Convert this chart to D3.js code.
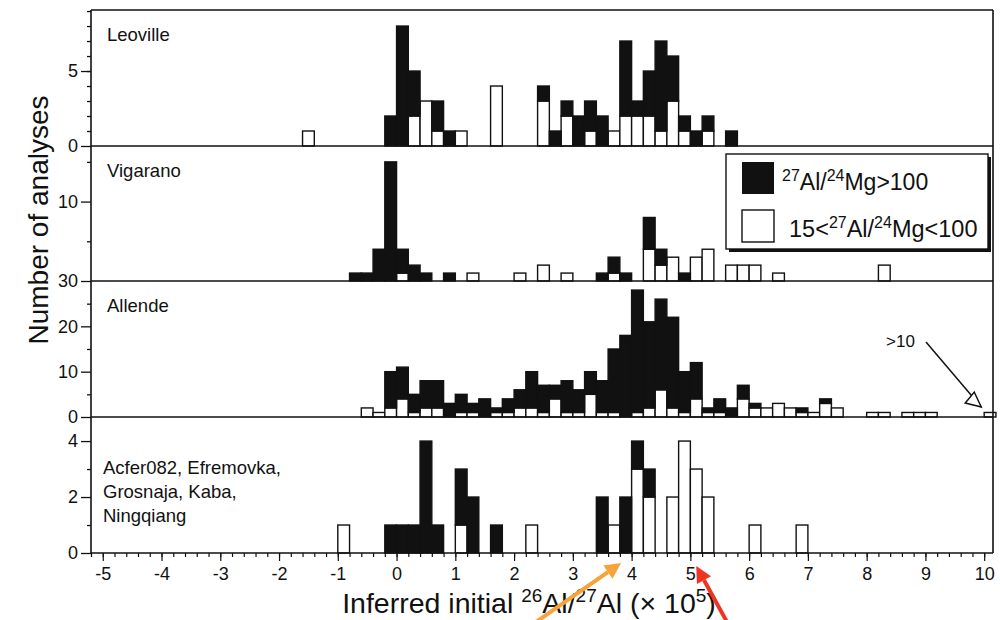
<!DOCTYPE html>
<html>
<head>
<meta charset="utf-8">
<script src="https://cdn.jsdelivr.net/npm/d3@7"></script>
<style>
  body { margin: 0; background: #fff; }
  text { font-family: "Liberation Sans", Arial, Helvetica, sans-serif; fill: #111; }
</style>
</head>
<body>
<div class="content"></div>
<script>
// bin start values (bin width 0.2), counts: high = 27Al/24Mg>100 (black), low = 15<27Al/24Mg<100 (white)
var leovilleBins = [-1.6,-0.2,0,0.2,0.4,0.6,0.8,1.0,1.6,2.4,2.6,2.8,3.0,3.2,3.4,3.6,3.8,4.0,4.2,4.4,4.6,4.8,5.0,5.2,5.6];
var leovilleHigh = [0,2,8,3,0,2,1,0,0,1,1,1,2,2,2,0,5,1,3,6,3,1,1,1,1];
var leovilleLow  = [1,0,0,2,3,1,0,1,4,3,0,2,0,1,0,1,2,2,2,1,3,1,0,1,0];

var vigaranoBins = [-0.8,-0.6,-0.4,-0.2,0,0.2,0.4,0.8,1.2,2.0,2.4,2.8,3.4,3.6,3.8,4.2,4.4,4.6,4.8,5.0,5.2,5.6,5.8,6.0,6.4,8.2];
var vigaranoHigh = [1,1,4,15,3,2,1,1,0,0,0,0,1,2,1,4,2,0,1,0,0,0,0,0,0,0];
var vigaranoLow  = [0,0,0,0,1,0,0,0,1,1,2,1,0,1,0,4,2,3,0,3,4,2,2,2,1,2];

var allendeBins = [-0.6,-0.4,-0.2,0,0.2,0.4,0.6,0.8,1.0,1.2,1.4,1.6,1.8,2.0,2.2,2.4,2.6,2.8,3.0,3.2,3.4,3.6,3.8,4.0,4.2,4.4,4.6,4.8,5.0,5.2,5.4,5.6,5.8,6.0,6.2,6.4,6.6,6.8,7.0,7.2,7.4,8.0,8.2,8.6,8.8,9.0,10.0];
var allendeHigh = [0,0,8,7,4,6,6,3,4,2,4,1,3,4,8,6,3,7,5,5,7,14,18,27,19,20,20,9,8,1,3,2,3,1,0,0,0,1,0,1,0,0,0,0,0,0,0];
var allendeLow  = [2,1,2,4,1,2,2,0,1,1,0,1,1,2,2,1,4,1,1,5,1,1,0,1,2,6,2,1,4,1,1,0,4,2,2,3,2,1,1,3,2,1,1,1,1,1,1];

var otherBins = [-1.0,-0.2,0,0.2,0.4,0.6,1.0,1.2,1.6,2.2,3.4,3.6,3.8,4.0,4.2,4.6,4.8,5.0,5.2,6.0,6.8];
var otherHigh = [0,1,1,1,4,1,2,2,1,0,2,0,2,1,1,0,0,0,0,0,0];
var otherLow  = [1,0,0,0,0,0,1,0,0,1,0,1,0,3,2,2,4,3,2,1,1];

var xTickValues = [-5,-4,-3,-2,-1,0,1,2,3,4,5,6,7,8,9,10];
var binWidth = 0.2;

var W = 1000, H = 620;
var svg = d3.select(".content").append("svg")
  .attr("width", W).attr("height", H);

var x = d3.scaleLinear().domain([-5.2, 10.15]).range([91, 993]);

var panels = [
  {label: ["Leoville"], bins: leovilleBins, high: leovilleHigh, low: leovilleLow,
   y: d3.scaleLinear().domain([0, 9.07]).range([146, 10]), major: [0,5], minor: d3.range(1,10)},
  {label: ["Vigarano"], bins: vigaranoBins, high: vigaranoHigh, low: vigaranoLow,
   y: d3.scaleLinear().domain([0, 17]).range([281, 146]), major: [10], minor: [5,15]},
  {label: ["Allende"], bins: allendeBins, high: allendeHigh, low: allendeLow,
   y: d3.scaleLinear().domain([0, 30]).range([417, 281]), major: [0,10,20,30], minor: [5,15,25]},
  {label: ["Acfer082, Efremovka,", "Grosnaja, Kaba,", "Ningqiang"], bins: otherBins, high: otherHigh, low: otherLow,
   y: d3.scaleLinear().domain([0, 4.86]).range([553, 417]), major: [0,2,4], minor: [1,3]}
];

panels.forEach(function(p) {
  var g = svg.append("g");
  var rows = p.bins.map(function(b, i) { return {b: b, hi: p.high[i], lo: p.low[i]}; });

  // white part (bottom of stack)
  g.selectAll("rect.lo").data(rows.filter(function(d){ return d.lo > 0; }))
    .enter().append("rect").attr("class", "lo")
    .attr("x", function(d){ return x(d.b); })
    .attr("width", function(d){ return x(d.b + binWidth) - x(d.b); })
    .attr("y", function(d){ return p.y(d.lo); })
    .attr("height", function(d){ return p.y(0) - p.y(d.lo); })
    .attr("fill", "#fff").attr("stroke", "#111").attr("stroke-width", 1.4);

  // black part stacked on top
  g.selectAll("rect.hi").data(rows.filter(function(d){ return d.hi > 0; }))
    .enter().append("rect").attr("class", "hi")
    .attr("x", function(d){ return x(d.b); })
    .attr("width", function(d){ return x(d.b + binWidth) - x(d.b); })
    .attr("y", function(d){ return p.y(d.lo + d.hi); })
    .attr("height", function(d){ return p.y(d.lo) - p.y(d.lo + d.hi); })
    .attr("fill", "#111").attr("stroke", "#111").attr("stroke-width", 1.4);

  // panel bottom line
  g.append("line").attr("x1", x.range()[0]).attr("x2", x.range()[1])
    .attr("y1", p.y(0)).attr("y2", p.y(0)).attr("stroke", "#111").attr("stroke-width", 1.6);

  var yMinor = d3.axisLeft(p.y).tickValues(p.minor).tickSize(4).tickFormat("");
  var yMajor = d3.axisLeft(p.y).tickValues(p.major).tickSize(10).tickPadding(3)
    .tickFormat(d3.format("d"));
  var ga = g.append("g").attr("transform", "translate(" + x.range()[0] + ",0)");
  ga.call(yMinor);
  ga.append("g").call(yMajor);
  ga.selectAll(".domain").remove();
  ga.selectAll("line").attr("stroke", "#111").attr("stroke-width", 1.3);
  ga.selectAll("text").style("font-size", "18px").attr("fill", "#111");

  var lt = g.append("text").style("font-size", "18.5px");
  p.label.forEach(function(s, i) {
    lt.append("tspan").attr("x", p.label.length > 1 ? 103 : 107)
      .attr("y", p.y.range()[1] + (p.label.length > 1 ? 57 : 31) + i * 24).text(s);
  });
});

// frame
svg.append("line").attr("x1", x.range()[0]).attr("x2", x.range()[0]).attr("y1", 10).attr("y2", 553)
  .attr("stroke", "#111").attr("stroke-width", 1.6);
svg.append("line").attr("x1", x.range()[1]).attr("x2", x.range()[1]).attr("y1", 10).attr("y2", 553)
  .attr("stroke", "#111").attr("stroke-width", 1.6);
svg.append("line").attr("x1", x.range()[0]).attr("x2", x.range()[1]).attr("y1", 10).attr("y2", 10)
  .attr("stroke", "#111").attr("stroke-width", 1.4);

// x axis
var xg = svg.append("g").attr("transform", "translate(0,553)");
xg.call(d3.axisBottom(x).tickValues(d3.range(-26, 51).map(function(k){ return k * binWidth; }))
  .tickSize(4).tickFormat(""));
xg.append("g").call(d3.axisBottom(x).tickValues(xTickValues).tickSize(8).tickPadding(6)
  .tickFormat(function(d){ return String(d); }));
xg.selectAll(".domain").remove();
xg.selectAll("line").attr("stroke", "#111").attr("stroke-width", 1.2);
xg.selectAll("text").style("font-size", "18px").attr("fill", "#111");

// axis titles
svg.append("text").attr("transform", "translate(48,220) rotate(-90)")
  .attr("text-anchor", "middle").style("font-size", "28px").text("Number of analyses");

var xt = svg.append("text").attr("x", 529).attr("y", 613).attr("text-anchor", "middle")
  .style("font-size", "28.5px");
xt.append("tspan").text("Inferred initial ");
xt.append("tspan").attr("dy", -11).style("font-size", "19px").text("26");
xt.append("tspan").attr("dy", 11).text("Al/");
xt.append("tspan").attr("dy", -11).style("font-size", "19px").text("27");
xt.append("tspan").attr("dy", 11).text("Al (\u00d7 10");
xt.append("tspan").attr("dy", -11).style("font-size", "19px").text("5");
xt.append("tspan").attr("dy", 11).text(")");

// legend
var lg = svg.append("g");
lg.append("rect").attr("x", 729).attr("y", 157).attr("width", 262).attr("height", 95).attr("fill", "#111");
lg.append("rect").attr("x", 726).attr("y", 154).attr("width", 262).attr("height", 95)
  .attr("fill", "#fff").attr("stroke", "#111").attr("stroke-width", 1.4);
lg.append("rect").attr("x", 742).attr("y", 162).attr("width", 32).attr("height", 32).attr("fill", "#111");
lg.append("rect").attr("x", 742).attr("y", 210).attr("width", 32).attr("height", 32)
  .attr("fill", "#fff").attr("stroke", "#111").attr("stroke-width", 1.4);
function supText(t, parts) {
  parts.forEach(function(p) {
    if (p[1]) t.append("tspan").attr("dy", -9).style("font-size", "16px").text(p[0]);
    else t.append("tspan").attr("dy", p[2] ? 9 : 0).text(p[0]);
  });
}
var l1 = lg.append("text").attr("x", 782).attr("y", 190).style("font-size", "23px");
supText(l1, [["27", 1], ["Al/", 0, 1], ["24", 1], ["Mg>100", 0, 1]]);
var l2 = lg.append("text").attr("x", 789).attr("y", 237).style("font-size", "23.5px");
supText(l2, [["15<", 0], ["27", 1], ["Al/", 0, 1], ["24", 1], ["Mg<100", 0, 1]]);

// ">10" annotation
var ya = panels[2].y;
svg.append("text").attr("x", 886).attr("y", 347).style("font-size", "17px").text(">10");
svg.append("line").attr("x1", 926).attr("y1", 342).attr("x2", x(9.95)).attr("y2", ya(2.2))
  .attr("stroke", "#111").attr("stroke-width", 1.5);
var ax = x(9.95), ay = ya(2.2);
svg.append("path")
  .attr("d", "M" + ax + "," + ay + " L" + (ax - 16) + "," + (ay - 4) + " L" + (ax - 7) + "," + (ay - 15) + "Z")
  .attr("fill", "#fff").attr("stroke", "#111").attr("stroke-width", 1.5);

// coloured pointer arrows
function pointer(x0, y0, x1, y1, col) {
  var a = Math.atan2(y1 - y0, x1 - x0), L = 16, Wd = 8;
  var bx = x1 - L * Math.cos(a), by = y1 - L * Math.sin(a);
  svg.append("line").attr("x1", x0).attr("y1", y0).attr("x2", bx).attr("y2", by)
    .attr("stroke", col).attr("stroke-width", 4);
  svg.append("path").attr("d", "M" + x1 + "," + y1 +
      " L" + (bx + Wd * Math.sin(a)) + "," + (by - Wd * Math.cos(a)) +
      " L" + (bx - Wd * Math.sin(a)) + "," + (by + Wd * Math.cos(a)) + "Z")
    .attr("fill", col);
}
pointer(536, 622, x(3.82), 563, "#f8a23a");
pointer(727, 622, x(5.1), 566, "#ee3524");
</script>
</body>
</html>
